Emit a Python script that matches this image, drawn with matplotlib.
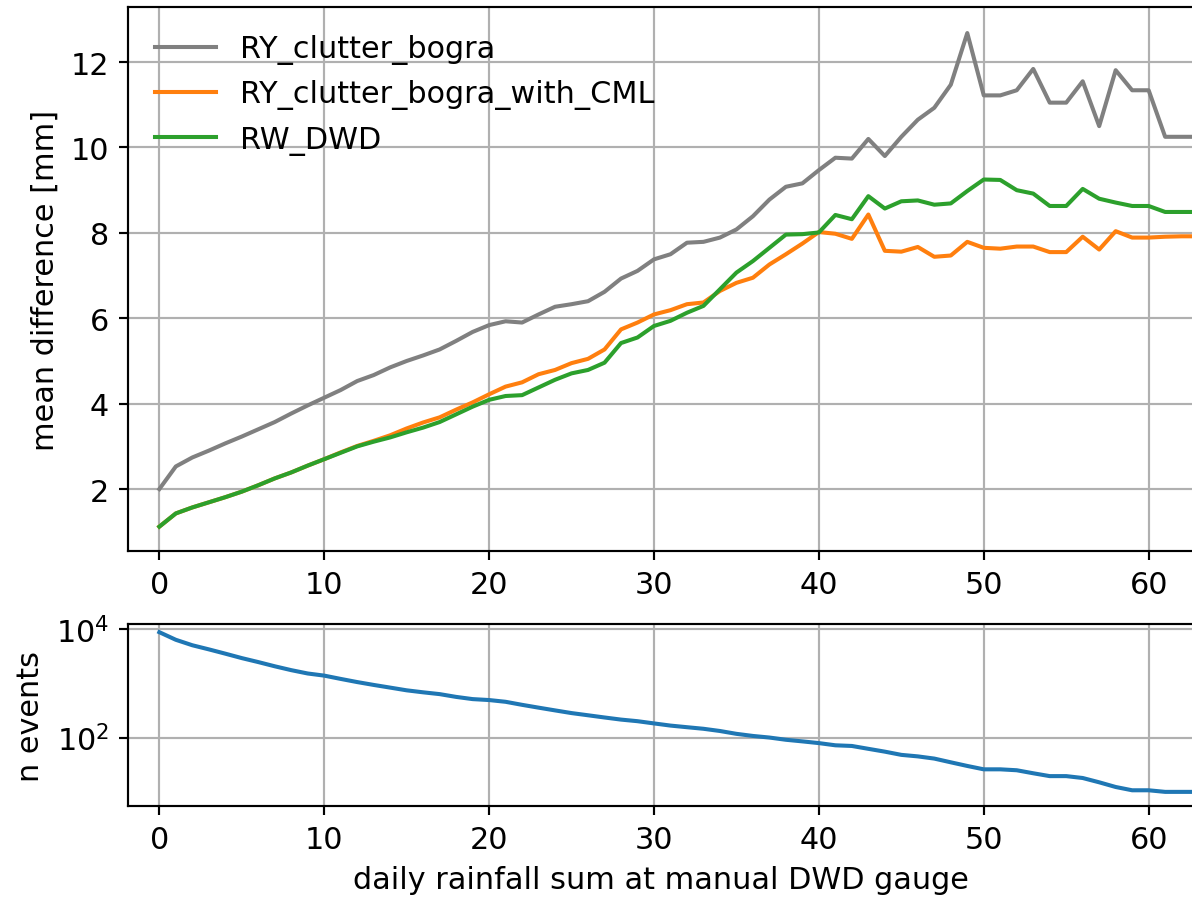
import numpy as np
import matplotlib
matplotlib.use("Agg")
import matplotlib.pyplot as plt

# daily rainfall sum at the DWD gauge (x axis)
rain = np.arange(64)

# mean difference [mm] for each product
ry_clutter_bogra = [
    2.00, 2.53, 2.74, 2.90, 3.07, 3.23, 3.40, 3.57, 3.77, 3.96,
    4.14, 4.32, 4.53, 4.67, 4.85, 5.00, 5.13, 5.27, 5.47, 5.68,
    5.84, 5.93, 5.90, 6.09, 6.27, 6.33, 6.40, 6.62, 6.93, 7.11,
    7.38, 7.50, 7.77, 7.79, 7.89, 8.08, 8.39, 8.78, 9.08, 9.16,
    9.47, 9.76, 9.74, 10.20, 9.80, 10.25, 10.65, 10.93, 11.47, 12.68,
    11.22, 11.22, 11.34, 11.84, 11.05, 11.05, 11.55, 10.50, 11.81, 11.34,
    11.34, 10.25, 10.25, 10.25,
]
ry_clutter_bogra_cml = [
    1.12, 1.43, 1.57, 1.69, 1.81, 1.94, 2.09, 2.25, 2.39, 2.55,
    2.70, 2.86, 3.01, 3.13, 3.26, 3.42, 3.56, 3.68, 3.86, 4.03,
    4.22, 4.40, 4.50, 4.69, 4.79, 4.95, 5.05, 5.27, 5.74, 5.90,
    6.09, 6.19, 6.33, 6.37, 6.64, 6.83, 6.95, 7.26, 7.50, 7.75,
    8.02, 7.98, 7.86, 8.43, 7.58, 7.56, 7.67, 7.44, 7.47, 7.79,
    7.65, 7.63, 7.68, 7.68, 7.55, 7.55, 7.91, 7.61, 8.04, 7.89,
    7.89, 7.91, 7.92, 7.92,
]
rw_dwd = [
    1.12, 1.43, 1.57, 1.69, 1.81, 1.94, 2.09, 2.25, 2.39, 2.55,
    2.70, 2.85, 3.00, 3.11, 3.21, 3.33, 3.44, 3.57, 3.75, 3.93,
    4.09, 4.18, 4.20, 4.38, 4.56, 4.71, 4.79, 4.96, 5.42, 5.55,
    5.82, 5.94, 6.13, 6.29, 6.68, 7.07, 7.34, 7.65, 7.96, 7.97,
    8.01, 8.42, 8.32, 8.86, 8.57, 8.74, 8.76, 8.66, 8.69, 8.98,
    9.25, 9.24, 9.00, 8.92, 8.63, 8.63, 9.03, 8.80, 8.71, 8.63,
    8.63, 8.49, 8.49, 8.49,
]

# number of events above each threshold
n_events = [
    8700, 6300, 5000, 4200, 3500, 2900, 2450, 2050, 1740, 1510,
    1380, 1200, 1050, 930, 830, 740, 680, 630, 560, 510,
    490, 455, 400, 355, 316, 282, 257, 234, 214, 200,
    182, 166, 155, 145, 132, 117, 107, 100, 91, 85,
    79, 72, 70, 62, 55, 48, 45, 41, 35, 30,
    26, 26, 25, 22, 19.5, 19.5, 18, 15, 12.3, 10.7,
    10.7, 10, 10, 10,
]

plt.rcParams["font.size"] = 11.2

W, H, DPI = 1192, 901, 195
fig = plt.figure(figsize=(W / DPI, H / DPI), dpi=DPI)

# right spine sits just past the edge of the picture (cropped there)
left, right = 128, 1194
x_lim = (-1.9, 62.75)
ax1 = fig.add_axes([left / W, (H - 552) / H, (right - left) / W, (552 - 8) / H])
ax2 = fig.add_axes([left / W, (H - 807) / H, (right - left) / W, (807 - 625) / H])

ax1.plot(rain, ry_clutter_bogra, color="gray", label="RY_clutter_bogra")
ax1.plot(rain, ry_clutter_bogra_cml, color="C1", label="RY_clutter_bogra_with_CML")
ax1.plot(rain, rw_dwd, color="C2", label="RW_DWD")
ax1.set_xlim(*x_lim)
ax1.set_ylim(0.55, 13.29)
ax1.set_ylabel("mean difference [mm]")
ax1.grid(True)
ax1.legend(loc="upper left", frameon=False)

ax2.plot(rain, n_events, color="C0")
ax2.set_yscale("log")
ax2.set_xlim(*x_lim)
ax2.set_ylim(10 ** 0.74, 10 ** 4.09)
ax2.set_ylabel("n events")
ax2.set_xlabel("daily rainfall sum at manual DWD gauge")
ax2.grid(True)

fig.savefig("out.png", dpi=DPI)
